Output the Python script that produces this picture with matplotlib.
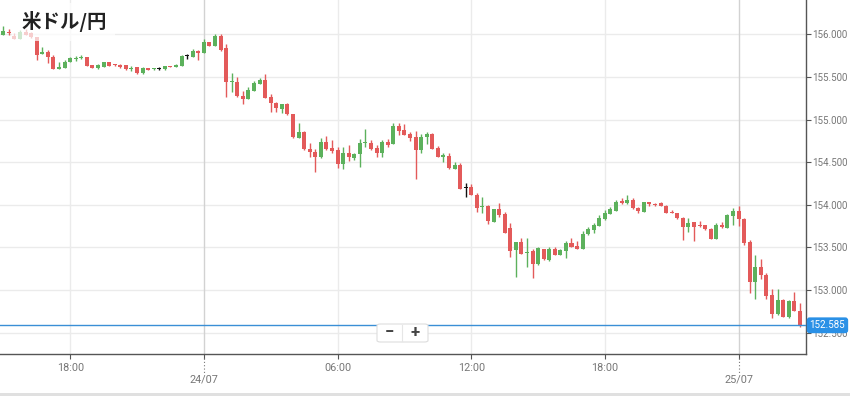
import numpy as np
import pandas as pd
import matplotlib.pyplot as plt
from matplotlib.patches import FancyBboxPatch, Rectangle
import matplotlib.transforms as mtransforms

plt.rcParams['font.family'] = ['Roboto', 'DejaVu Sans']

# USD/JPY, 15 minute candles from 23/07 15:00
opens = [155.989, 156.027, 155.980, 155.949, 156.027, 156.012, 155.965, 155.766, 155.796, 155.738,
         155.597, 155.608, 155.679, 155.710, 155.726, 155.730, 155.636, 155.605, 155.620, 155.675,
         155.648, 155.644, 155.636, 155.593, 155.617, 155.543, 155.605, 155.589, 155.589, 155.589,
         155.626, 155.620, 155.632, 155.742, 155.738, 155.808, 155.785, 155.907, 155.867, 155.984,
         155.836, 155.437, 155.440, 155.279, 155.244, 155.338, 155.417, 155.464, 155.261, 155.190,
         155.127, 155.179, 155.061, 154.787, 154.857, 154.654, 154.619, 154.557, 154.733, 154.662,
         154.643, 154.475, 154.604, 154.552, 154.592, 154.721, 154.721, 154.666, 154.604, 154.736,
         154.709, 154.928, 154.877, 154.830, 154.799, 154.643, 154.795, 154.834, 154.669, 154.566,
         154.572, 154.423, 154.466, 154.193, 154.205, 154.111, 153.973, 153.985, 153.801, 153.950,
         153.891, 153.727, 153.468, 153.562, 153.430, 153.460, 153.301, 153.477, 153.351, 153.481,
         153.410, 153.460, 153.547, 153.515, 153.481, 153.653, 153.703, 153.750, 153.829, 153.895,
         153.930, 154.044, 154.017, 154.055, 153.962, 153.918, 154.028, 154.008, 154.017, 153.985,
         153.909, 153.899, 153.840, 153.742, 153.797, 153.752, 153.758, 153.719, 153.601, 153.766,
         153.727, 153.867, 153.926, 153.836, 153.559, 153.096, 153.265, 153.175, 152.937, 152.717,
         152.882, 152.685, 152.870, 152.756]
closes = [156.043, 156.012, 155.949, 156.027, 155.996, 155.965, 155.757, 155.796, 155.738, 155.597,
          155.620, 155.679, 155.719, 155.719, 155.730, 155.632, 155.608, 155.636, 155.675, 155.632,
          155.636, 155.613, 155.589, 155.601, 155.543, 155.608, 155.585, 155.597, 155.589, 155.625,
          155.619, 155.644, 155.749, 155.742, 155.804, 155.777, 155.914, 155.867, 155.980, 155.816,
          155.437, 155.444, 155.276, 155.244, 155.346, 155.432, 155.467, 155.258, 155.190, 155.132,
          155.179, 155.061, 154.791, 154.854, 154.650, 154.615, 154.557, 154.733, 154.650, 154.634,
          154.475, 154.604, 154.557, 154.592, 154.721, 154.736, 154.654, 154.604, 154.733, 154.705,
          154.924, 154.869, 154.822, 154.787, 154.646, 154.795, 154.834, 154.658, 154.564, 154.572,
          154.427, 154.466, 154.188, 154.193, 154.118, 153.965, 153.981, 153.812, 153.950, 153.879,
          153.672, 153.460, 153.562, 153.422, 153.449, 153.301, 153.489, 153.360, 153.481, 153.410,
          153.469, 153.554, 153.507, 153.484, 153.653, 153.719, 153.766, 153.848, 153.899, 153.950,
          154.036, 154.017, 154.055, 153.958, 153.930, 154.028, 154.003, 154.001, 153.985, 153.906,
          153.903, 153.840, 153.742, 153.789, 153.742, 153.747, 153.719, 153.601, 153.766, 153.735,
          153.883, 153.926, 153.829, 153.547, 153.096, 153.265, 153.175, 152.928, 152.717, 152.882,
          152.685, 152.870, 152.756, 152.585]
highs = [156.098, 156.059, 156.012, 156.051, 156.059, 156.027, 155.969, 155.848, 155.816, 155.761,
         155.679, 155.699, 155.738, 155.746, 155.754, 155.734, 155.640, 155.652, 155.681, 155.675,
         155.652, 155.648, 155.640, 155.628, 155.620, 155.613, 155.608, 155.605, 155.620, 155.628,
         155.628, 155.648, 155.757, 155.766, 155.824, 155.816, 155.945, 155.910, 156.000, 156.000,
         155.886, 155.542, 155.503, 155.338, 155.378, 155.456, 155.487, 155.534, 155.296, 155.209,
         155.182, 155.190, 155.065, 154.963, 154.862, 154.721, 154.658, 154.780, 154.807, 154.760,
         154.681, 154.681, 154.701, 154.611, 154.775, 154.885, 154.760, 154.701, 154.760, 154.768,
         154.963, 154.963, 154.948, 154.857, 154.869, 154.830, 154.857, 154.842, 154.693, 154.603,
         154.603, 154.505, 154.486, 154.258, 154.243, 154.134, 154.087, 153.997, 153.953, 154.017,
         153.918, 153.782, 153.566, 153.606, 153.606, 153.477, 153.507, 153.481, 153.507, 153.500,
         153.481, 153.574, 153.606, 153.574, 153.695, 153.742, 153.782, 153.879, 153.938, 153.970,
         154.055, 154.082, 154.114, 154.075, 153.977, 154.032, 154.036, 154.024, 154.032, 153.997,
         153.938, 153.903, 153.859, 153.840, 153.801, 153.812, 153.766, 153.723, 153.789, 153.793,
         153.887, 153.958, 153.988, 153.848, 153.586, 153.410, 153.363, 153.195, 153.007, 153.011,
         152.893, 152.882, 152.979, 152.845]
lows = [155.989, 155.996, 155.945, 155.949, 155.992, 155.957, 155.699, 155.766, 155.660, 155.589,
        155.589, 155.605, 155.672, 155.687, 155.707, 155.628, 155.605, 155.597, 155.617, 155.625,
        155.632, 155.608, 155.581, 155.566, 155.538, 155.538, 155.581, 155.585, 155.585, 155.585,
        155.617, 155.617, 155.628, 155.714, 155.734, 155.699, 155.781, 155.863, 155.863, 155.804,
        155.268, 155.320, 155.268, 155.186, 155.241, 155.335, 155.413, 155.256, 155.092, 155.092,
        155.073, 155.057, 154.787, 154.780, 154.646, 154.564, 154.387, 154.552, 154.643, 154.611,
        154.427, 154.416, 154.513, 154.525, 154.439, 154.681, 154.643, 154.564, 154.564, 154.681,
        154.709, 154.818, 154.818, 154.752, 154.302, 154.611, 154.709, 154.654, 154.560, 154.505,
        154.423, 154.419, 154.184, 154.087, 154.114, 153.918, 153.906, 153.774, 153.797, 153.859,
        153.668, 153.383, 153.155, 153.418, 153.272, 153.136, 153.296, 153.355, 153.343, 153.406,
        153.406, 153.371, 153.504, 153.480, 153.478, 153.649, 153.664, 153.746, 153.821, 153.891,
        153.926, 154.005, 154.012, 153.954, 153.906, 153.915, 153.989, 153.989, 153.981, 153.903,
        153.899, 153.836, 153.586, 153.683, 153.578, 153.735, 153.703, 153.597, 153.597, 153.723,
        153.723, 153.762, 153.754, 153.527, 152.960, 152.890, 153.124, 152.890, 152.667, 152.706,
        152.678, 152.671, 152.753, 152.561]

last_price = 152.585
title = "米ドル/円"
y_ticks = [152.5, 153.0, 153.5, 154.0, 154.5, 155.0, 155.5, 156.0]

times = pd.date_range("2024-07-23 15:00", periods=len(opens), freq="15min")

up_color = "#5cb15c"
down_color = "#e35a5a"

W, H = 850, 396
fig = plt.figure(figsize=(W / 100, H / 100), dpi=100)
ax = fig.add_axes([0, 42 / H, 806 / W, 354 / H])

o = np.array(opens)
c = np.array(closes)
hi = np.array(highs)
lo = np.array(lows)
x = np.arange(len(o))
colors = np.where(c > o, up_color, np.where(c < o, down_color, "#111111"))

ax.vlines(x, lo, hi, colors=colors, linewidth=1, zorder=3)
body_lo = np.minimum(o, c)
body_h = np.maximum(np.abs(c - o), 0.013)
ax.bar(x, body_h, bottom=body_lo, width=0.72, color=colors, linewidth=0, zorder=3)

ax.set_xlim(-0.6, 144.1)
ax.set_ylim(152.248, 156.403)

# horizontal grid
for yv in y_ticks:
    ax.axhline(yv, color="#ebebeb", linewidth=1, zorder=0)

# time ticks every 6 hours, date lines at midnight
tick_pos = [i for i, t in enumerate(times) if t.minute == 0 and t.hour % 6 == 0]
tick_lab = []
for i in tick_pos:
    t = times[i]
    if t.hour == 0:
        ax.axvline(i, color="#d2d2d2", linewidth=1, zorder=0)
        tick_lab.append("\n" + t.strftime("%d/%m"))
        ax.plot([i, i], [-0.012, -0.055], transform=mtransforms.blended_transform_factory(ax.transData, ax.transAxes),
                color="#777777", linewidth=0.8, linestyle=(0, (1, 2)), clip_on=False)
    else:
        ax.axvline(i, color="#ebebeb", linewidth=1, zorder=0)
        tick_lab.append(t.strftime("%H:%M"))
ax.set_xticks(tick_pos)
ax.set_xticklabels(tick_lab, linespacing=1.2, fontsize=7.8)

ax.yaxis.tick_right()
ax.set_yticks(y_ticks)
ax.set_yticklabels([f"{v:.3f}" for v in y_ticks], fontsize=7.0)
ax.tick_params(axis="both", colors="#555555", labelcolor="#777777", length=3.5, width=0.8)
ax.tick_params(axis="y", pad=1.2)
ax.tick_params(axis="x", pad=3)

for s in ["top", "left"]:
    ax.spines[s].set_visible(False)
for s in ["right", "bottom"]:
    ax.spines[s].set_color("#555555")
    ax.spines[s].set_linewidth(1)

# current price line and label
ax.axhline(last_price, color="#3a8fd6", linewidth=1, zorder=4)
ax.text(1.0045, last_price, f"{last_price:.3f}", transform=mtransforms.blended_transform_factory(ax.transAxes, ax.transData),
        ha="left", va="center", color="white", fontsize=7.0, zorder=10, clip_on=False,
        bbox=dict(boxstyle="round,pad=0.3,rounding_size=0.3", facecolor="#2a90e6", edgecolor="none"))

# title with translucent background
fig.text(21 / W, 1 - 22 / H, title, fontsize=14, fontweight="bold", color="#222222", va="center", ha="left",
         family=["Noto Sans CJK JP", "DejaVu Sans"], zorder=10,
         bbox=dict(boxstyle="square,pad=0.45", facecolor="white", edgecolor="none", alpha=0.7))

# zoom buttons
btn = FancyBboxPatch((377 / W, 1 - 342 / H), 51 / W, 18 / H, boxstyle="round,pad=0,rounding_size=0.004",
                     transform=fig.transFigure, facecolor="white", edgecolor="#dddddd", linewidth=0.8, zorder=20)
fig.patches.append(btn)
fig.add_artist(plt.Line2D([402 / W, 402 / W], [1 - 341 / H, 1 - 325 / H], color="#e6e6e6", linewidth=0.8, zorder=21))
fig.text(389 / W, 1 - 333 / H, "−", ha="center", va="center", fontsize=12, fontweight="bold", color="#444444", zorder=22)
fig.text(415 / W, 1 - 333 / H, "+", ha="center", va="center", fontsize=12, fontweight="bold", color="#444444", zorder=22)

# scrollbar strip at the bottom
fig.patches.append(Rectangle((0, 0), 1, 3 / H, transform=fig.transFigure, facecolor="#e0e0e0", edgecolor="none"))

fig.savefig("out.png", dpi=100)
